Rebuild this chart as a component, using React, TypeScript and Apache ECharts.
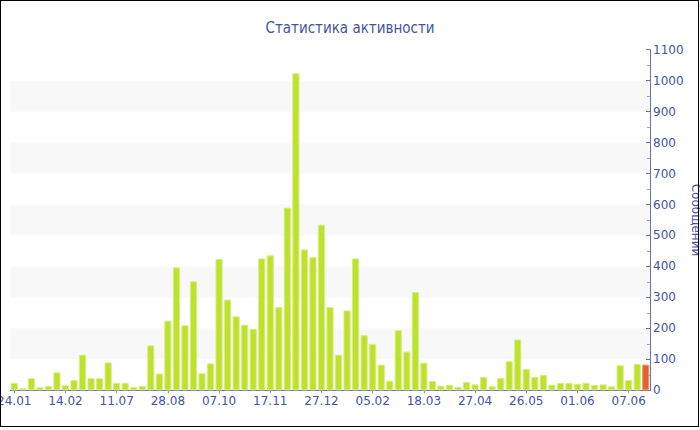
import React, { useEffect, useRef } from "react";
import * as echarts from "echarts";

const title = "Статистика активности";
const yAxisName = "Сообщений";

const categories = [
  "24.01", "27.01", "31.01", "03.02", "07.02", "10.02",
  "14.02", "10.03", "05.04", "02.05", "28.05", "15.06",
  "11.07", "19.07", "27.07", "04.08", "12.08", "20.08",
  "28.08", "04.09", "11.09", "18.09", "24.09", "01.10",
  "07.10", "14.10", "21.10", "28.10", "04.11", "11.11",
  "17.11", "24.11", "01.12", "08.12", "14.12", "21.12",
  "27.12", "03.01", "10.01", "17.01", "24.01", "30.01",
  "05.02", "12.02", "19.02", "26.02", "04.03", "11.03",
  "18.03", "25.03", "01.04", "08.04", "14.04", "21.04",
  "27.04", "02.05", "07.05", "12.05", "17.05", "21.05",
  "26.05", "27.05", "28.05", "29.05", "30.05", "31.05",
  "01.06", "02.06", "03.06", "04.06", "05.06", "06.06",
  "07.06", "08.06", "09.06",
];

const messages = [
  24, 7, 39, 10, 14, 58,
  16, 33, 115, 39, 39, 90,
  24, 24, 11, 14, 145, 54,
  225, 397, 210, 352, 55, 87,
  424, 293, 239, 212, 198, 426,
  436, 269, 590, 1024, 455, 430,
  535, 269, 115, 258, 426, 178,
  150, 83, 31, 194, 125, 317,
  89, 30, 15, 18, 11, 27,
  19, 43, 13, 40, 94, 164,
  69, 43, 50, 18, 24, 24,
  21, 24, 17, 19, 13, 81,
  33, 85, 83,
];

const yTicks = { min: 0, max: 1100, interval: 100 };

const BAR_COLOR = "#bde12d";
const LAST_COLOR = "#e0622d";
const TEXT_COLOR = "#4254a4";
const AXIS_COLOR = "#6272b4";

export default function App() {
  const ref = useRef<HTMLDivElement>(null);

  useEffect(() => {
    if (!ref.current) return;
    const chart = echarts.init(ref.current, undefined, { renderer: "svg" });
    const lastIdx = messages.length - 1;
    chart.setOption({
      animation: false,
      backgroundColor: "#ffffff",
      title: {
        text: title,
        left: "center",
        top: 15,
        textStyle: {
          color: TEXT_COLOR,
          fontSize: 15,
          fontWeight: "normal",
          fontFamily: "DejaVu Sans Condensed, DejaVu Sans, sans-serif",
        },
      },
      grid: {
        left: 10,
        right: 50,
        top: 49.7,
        bottom: 39.7,
        containLabel: false,
        outerBoundsMode: "none",
      },
      xAxis: {
        type: "category",
        data: categories,
        boundaryGap: true,
        axisLine: { lineStyle: { color: AXIS_COLOR, width: 1 } },
        axisTick: {
          show: true,
          alignWithLabel: true,
          interval: 5,
          length: 3,
          lineStyle: { color: "#9a9a9a" },
        },
        axisLabel: {
          interval: 5,
          margin: 5,
          color: TEXT_COLOR,
          fontSize: 12,
          fontFamily: "DejaVu Sans, sans-serif",
          hideOverlap: false,
        },
        splitLine: { show: false },
      },
      yAxis: {
        type: "value",
        position: "right",
        min: yTicks.min,
        max: yTicks.max,
        interval: yTicks.interval,
        name: yAxisName,
        nameLocation: "middle",
        nameRotate: -90,
        nameGap: 40,
        nameMoveOverlap: false,
        nameTextStyle: {
          color: TEXT_COLOR,
          fontSize: 12,
          fontFamily: "DejaVu Sans, sans-serif",
        },
        axisLine: { show: true, lineStyle: { color: AXIS_COLOR, width: 1 } },
        axisTick: { show: true, inside: true, length: 4, lineStyle: { color: AXIS_COLOR } },
        minorTick: { show: true, splitNumber: 2, length: 3, lineStyle: { color: "#9aa3c8" } },
        axisLabel: {
          margin: 3,
          color: TEXT_COLOR,
          fontSize: 12,
          fontFamily: "DejaVu Sans, sans-serif",
          formatter: (v: number) => String(v),
        },
        splitLine: { show: false },
        splitArea: {
          show: true,
          areaStyle: { color: ["rgba(255,255,255,0)", "#f8f8f8"] },
        },
      },
      series: [
        {
          type: "bar",
          data: messages.map((v, i) =>
            i === lastIdx
              ? { value: v, itemStyle: { color: LAST_COLOR, borderColor: "#eb9a70" } }
              : v
          ),
          barCategoryGap: "16%",
          itemStyle: {
            color: BAR_COLOR,
            borderColor: "#d6ef80",
            borderWidth: 1,
          },
        },
      ],
    });
    return () => chart.dispose();
  }, []);

  return (
    <div style={{ position: "fixed", left: 0, top: 0, width: 700, height: 430 }}>
      <div ref={ref} style={{ position: "absolute", left: 0, top: 0, width: 700, height: 430 }} />
      <div
        style={{
          position: "absolute",
          left: 0,
          top: 0,
          width: 697,
          height: 425,
          border: "1px solid #000",
          pointerEvents: "none",
        }}
      />
    </div>
  );
}
